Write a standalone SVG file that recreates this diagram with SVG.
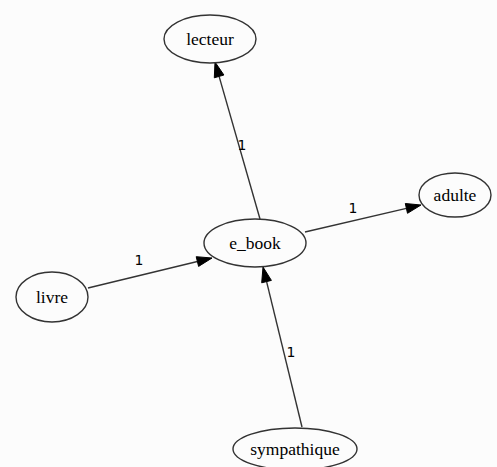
<svg xmlns="http://www.w3.org/2000/svg" width="497" height="467" viewBox="0 0 497 467">
<style>
.node ellipse{fill:none;stroke:#333;stroke-width:1.4}
.node text{font-size:17.5px;fill:#000;text-anchor:middle}
.edge line{stroke:#333;stroke-width:1.4}
.edge polygon{fill:#000;stroke:#000;stroke-width:1}
.lbl{font-size:14px;fill:#000;text-anchor:middle}
</style>
<rect width="497" height="467" fill="#fcfcfc"/>
<g id="connectors">
<g class="edge"><line x1="260" y1="219" x2="219.1" y2="76.4"/><polygon points="215,62 223.9,75 214.3,77.8"/><text class="lbl" font-family="DejaVu Sans, sans-serif" x="242" y="150">1</text></g>
<g class="edge"><line x1="305" y1="232" x2="406.4" y2="208.4"/><polygon points="421,205 407.5,213.3 405.3,203.5"/><text class="lbl" font-family="DejaVu Sans, sans-serif" x="353" y="213">1</text></g>
<g class="edge"><line x1="88" y1="288" x2="197.4" y2="261.5"/><polygon points="212,258 198.6,266.4 196.2,256.7"/><text class="lbl" font-family="DejaVu Sans, sans-serif" x="139" y="265">1</text></g>
<g class="edge"><line x1="302" y1="427" x2="266.6" y2="281.6"/><polygon points="263,267 271.4,280.4 261.7,282.8"/><text class="lbl" font-family="DejaVu Sans, sans-serif" x="291" y="357">1</text></g>
</g>
<g id="lecteur" class="node"><ellipse cx="210" cy="39" rx="46" ry="24"/><text font-family="Liberation Serif, DejaVu Serif, serif" x="210" y="45">lecteur</text></g>
<g id="e_book" class="node"><ellipse cx="255" cy="243" rx="51" ry="24"/><text font-family="Liberation Serif, DejaVu Serif, serif" x="255" y="249">e_book</text></g>
<g id="adulte" class="node"><ellipse cx="455" cy="195" rx="36" ry="22"/><text font-family="Liberation Serif, DejaVu Serif, serif" x="455" y="201">adulte</text></g>
<g id="livre" class="node"><ellipse cx="52" cy="297" rx="36" ry="25"/><text font-family="Liberation Serif, DejaVu Serif, serif" x="52" y="303">livre</text></g>
<g id="sympathique" class="node"><ellipse cx="295" cy="449" rx="62" ry="21"/><text font-family="Liberation Serif, DejaVu Serif, serif" x="295" y="455">sympathique</text></g>
</svg>
